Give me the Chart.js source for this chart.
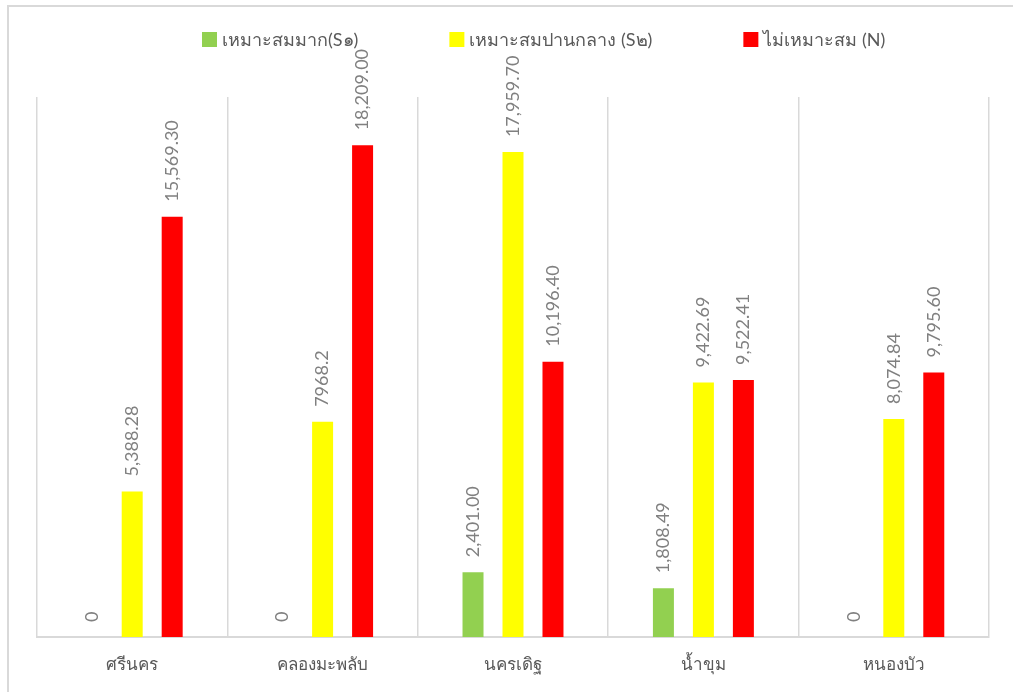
<!doctype html>
<html>
  <head>
    <meta charset="utf-8">
    <title>Land suitability</title>
    <style>
      html, body {
        margin: 0;
        height: 100%;
        background: #fff;
        overflow: hidden;
      }
      #frame {
        position: absolute;
        left: 7px;
        top: 5px;
        width: 1020px;
        height: 700px;
        border: 2px solid #d9d9d9;
        box-sizing: border-box;
      }
      #wrap {
        position: absolute;
        left: 0;
        top: 0;
        width: 1013px;
        height: 692px;
      }
    </style>
  </head>
  <body>
    <div id="frame"></div>
    <div id="wrap">
      <canvas id="canvas"></canvas>
    </div>

    <script src="https://cdn.jsdelivr.net/npm/chart.js@4"></script>
    <script>
      var categories = ['ศรีนคร', 'คลองมะพลับ', 'นครเดิฐ', 'น้ำขุม', 'หนองบัว']
      var seriesNames = ['เหมาะสมมาก(S๑)', 'เหมาะสมปานกลาง (S๒)', 'ไม่เหมาะสม (N)']
      var s1Values = [0, 0, 2401.00, 1808.49, 0]
      var s2Values = [5388.28, 7968.2, 17959.70, 9422.69, 8074.84]
      var nValues = [15569.30, 18209.00, 10196.40, 9522.41, 9795.60]
      var s1Labels = ['0', '0', '2,401.00', '1,808.49', '0']
      var s2Labels = ['5,388.28', '7968.2', '17,959.70', '9,422.69', '8,074.84']
      var nLabels = ['15,569.30', '18,209.00', '10,196.40', '9,522.41', '9,795.60']
      var colors = ['#92D050', '#FFFF00', '#FF0000']

      var allLabels = [s1Labels, s2Labels, nLabels]
      var fontFamily = 'Lato, "Open Sans", sans-serif'

      // rotated value labels above each bar
      var barLabels = {
        id: 'barLabels',
        afterDatasetsDraw: function(chart) {
          var ctx = chart.ctx
          ctx.save()
          ctx.font = '18px ' + fontFamily
          ctx.fillStyle = '#808080'
          ctx.textAlign = 'left'
          ctx.textBaseline = 'middle'
          chart.data.datasets.forEach(function(ds, i) {
            var meta = chart.getDatasetMeta(i)
            meta.data.forEach(function(bar, j) {
              ctx.save()
              ctx.translate(bar.x, bar.y - 15)
              ctx.rotate(-Math.PI / 2)
              ctx.fillText(allLabels[i][j], 0, 0)
              ctx.restore()
            })
          })
          ctx.restore()
        }
      }

      // legend row drawn by hand so the item spacing stays wide without a tall box
      var topLegend = {
        id: 'topLegend',
        afterDraw: function(chart) {
          var ctx = chart.ctx
          ctx.save()
          ctx.font = '18px ' + fontFamily
          ctx.textBaseline = 'middle'
          ctx.textAlign = 'left'
          var x = 202
          var y = 40
          chart.data.datasets.forEach(function(ds) {
            ctx.fillStyle = ds.backgroundColor
            ctx.fillRect(x, y - 8, 15, 15)
            ctx.fillStyle = '#595959'
            ctx.fillText(ds.label, x + 20, y)
            x += 20 + ctx.measureText(ds.label).width + 91
          })
          ctx.restore()
        }
      }

      var ctx = document.getElementById('canvas').getContext('2d')
      new Chart(ctx, {
        type: 'bar',
        data: {
          labels: categories,
          datasets: [
            { label: seriesNames[0], data: s1Values, backgroundColor: colors[0] },
            { label: seriesNames[1], data: s2Values, backgroundColor: colors[1] },
            { label: seriesNames[2], data: nValues, backgroundColor: colors[2] }
          ]
        },
        options: {
          responsive: true,
          maintainAspectRatio: false,
          animation: false,
          categoryPercentage: 0.63,
          barPercentage: 0.525,
          layout: {
            padding: { left: 37, right: 24, top: 97, bottom: 0 }
          },
          plugins: {
            tooltip: { enabled: false },
            legend: { display: false }
          },
          scales: {
            y: {
              display: false,
              min: 0,
              max: 20000
            },
            x: {
              grid: {
                color: '#d9d9d9',
                lineWidth: 1.5,
                drawTicks: false
              },
              border: { color: '#d9d9d9', width: 2 },
              ticks: {
                color: '#595959',
                padding: 19,
                font: { size: 17, family: fontFamily, lineHeight: 1 }
              }
            }
          }
        },
        plugins: [barLabels, topLegend]
      })
    </script>
  </body>
</html>
